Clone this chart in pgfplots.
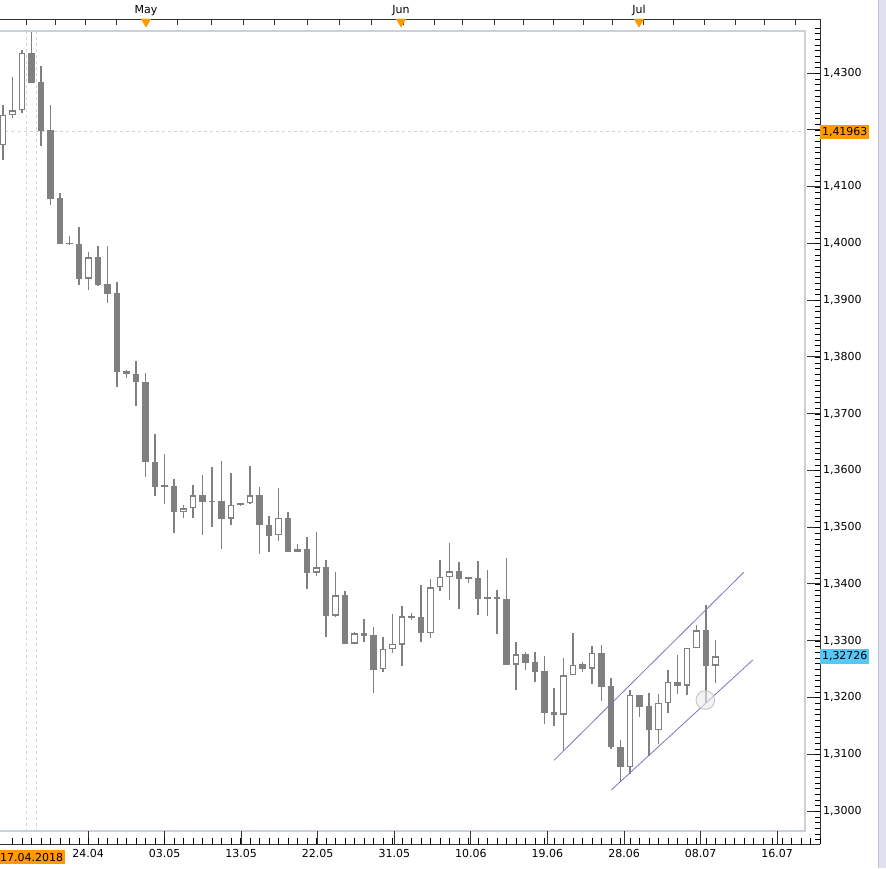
\documentclass[border=0pt]{standalone}
\usepackage{pgfplots}
\pgfplotsset{compat=1.18}
\usepackage{pgfplotstable}
\usepackage{fontspec}
\setmainfont{DejaVu Sans}
\definecolor{candle}{RGB}{128,128,128}
\definecolor{framec}{RGB}{204,208,216}
\definecolor{chan}{RGB}{120,120,184}
\definecolor{orangelbl}{RGB}{255,153,0}
\definecolor{bluelbl}{RGB}{85,200,245}
\definecolor{crossc}{RGB}{212,212,212}
\definecolor{barc}{RGB}{224,224,238}
\definecolor{barl}{RGB}{196,196,216}
\definecolor{axisc}{RGB}{50,50,50}

% down (filled) candles
\pgfplotstableread{
i O H L C
3 1.4335 1.4373 1.4282 1.4283
4 1.4284 1.4312 1.4171 1.4198
5 1.4200 1.4244 1.4068 1.4078
6 1.4079 1.4089 1.3998 1.3999
7 1.4001 1.4013 1.3997 1.3998
8 1.3999 1.4029 1.3927 1.3938
10 1.3975 1.3995 1.3924 1.3927
11 1.3928 1.3995 1.3895 1.3911
12 1.3912 1.3932 1.3747 1.3774
13 1.3775 1.3777 1.3763 1.3769
14 1.3770 1.3792 1.3714 1.3755
15 1.3756 1.3772 1.3589 1.3614
16 1.3615 1.3664 1.3555 1.3571
17 1.3573 1.3629 1.3540 1.3571
18 1.3572 1.3585 1.3489 1.3526
21 1.3557 1.3592 1.3487 1.3545
22 1.3546 1.3606 1.3501 1.3544
23 1.3546 1.3617 1.3462 1.3515
27 1.3557 1.3571 1.3453 1.3503
28 1.3504 1.3520 1.3457 1.3485
30 1.3516 1.3527 1.3457 1.3457
32 1.3461 1.3483 1.3391 1.3420
34 1.3430 1.3442 1.3307 1.3344
36 1.3380 1.3388 1.3294 1.3295
38 1.3313 1.3339 1.3298 1.3309
39 1.3310 1.3324 1.3207 1.3249
43 1.3343 1.3348 1.3337 1.3340
44 1.3341 1.3398 1.3297 1.3314
48 1.3422 1.3439 1.3356 1.3409
49 1.3410 1.3412 1.3401 1.3409
50 1.3410 1.3440 1.3346 1.3374
51 1.3375 1.3425 1.3344 1.3374
52 1.3375 1.3389 1.3311 1.3374
53 1.3374 1.3446 1.3257 1.3258
55 1.3276 1.3280 1.3249 1.3261
56 1.3262 1.3280 1.3228 1.3245
57 1.3247 1.3273 1.3154 1.3173
58 1.3174 1.3217 1.3149 1.3170
61 1.3259 1.3262 1.3244 1.3251
63 1.3278 1.3292 1.3194 1.3219
64 1.3220 1.3234 1.3109 1.3112
65 1.3112 1.3125 1.3051 1.3077
67 1.3204 1.3204 1.3166 1.3184
68 1.3185 1.3207 1.3097 1.3143
71 1.3227 1.3275 1.3206 1.3221
74 1.3318 1.3363 1.3191 1.3256
}\down

% up (hollow) candles
\pgfplotstableread{
i O H L C
0 1.4173 1.4244 1.4146 1.4226
1 1.4226 1.4293 1.4221 1.4234
2 1.4234 1.4341 1.4230 1.4335
9 1.3938 1.3985 1.3918 1.3975
19 1.3526 1.3539 1.3517 1.3533
20 1.3533 1.3574 1.3517 1.3556
24 1.3515 1.3595 1.3503 1.3539
25 1.3539 1.3543 1.3537 1.3542
26 1.3542 1.3608 1.3541 1.3556
29 1.3486 1.3569 1.3476 1.3516
31 1.3457 1.3470 1.3456 1.3461
33 1.3420 1.3492 1.3414 1.3429
35 1.3344 1.3421 1.3341 1.3380
37 1.3295 1.3315 1.3294 1.3313
40 1.3250 1.3306 1.3244 1.3285
41 1.3285 1.3347 1.3279 1.3294
42 1.3293 1.3361 1.3256 1.3343
45 1.3314 1.3409 1.3304 1.3394
46 1.3394 1.3442 1.3388 1.3412
47 1.3412 1.3472 1.3372 1.3422
54 1.3258 1.3298 1.3214 1.3276
59 1.3170 1.3270 1.3106 1.3239
60 1.3239 1.3314 1.3239 1.3258
62 1.3251 1.3291 1.3223 1.3278
66 1.3077 1.3213 1.3066 1.3204
69 1.3143 1.3206 1.3118 1.3190
70 1.3190 1.3248 1.3173 1.3227
72 1.3221 1.3288 1.3204 1.3287
73 1.3287 1.3327 1.3287 1.3318
75 1.3256 1.3301 1.3226 1.32726
}\up

\pgfplotsset{
  cbar/.style n args={2}{draw=none, mark=none, forget plot,
    error bars/.cd, y dir=plus, y explicit, error mark=none,
    error bar style={draw=#1, solid, line width=#2}},
}

\begin{document}
\begin{tikzpicture}
\useasboundingbox (0pt,0pt) rectangle (886pt,-868pt);
\fill[white] (0pt,0pt) rectangle (886pt,-868pt);
\fill[barc] (878pt,0pt) rectangle (886pt,-868pt);
\draw[barl, line width=1pt] (878.5pt,0pt) -- (878.5pt,-868pt);

% ---------- main data axis ----------
\begin{axis}[at={(0pt,-831pt)}, anchor=south west, scale only axis,
  width=805pt, height=800pt,
  xmin=-0.3158, xmax=84.421, ymin=1.296477, ymax=1.437397,
  hide axis, clip=true]
% crosshair
\addplot[crossc, line width=0.8pt, dash pattern=on 3pt off 3pt, forget plot] coordinates {(-1,1.41963) (90,1.41963)};
\addplot[crossc, line width=0.8pt, dash pattern=on 3pt off 3pt, forget plot] coordinates {(2.5,1.29) (2.5,1.44)};
\addplot[crossc, line width=0.8pt, dash pattern=on 3pt off 3pt, forget plot] coordinates {(3.5,1.29) (3.5,1.44)};
% wicks
\addplot[cbar={candle}{1.1pt}] table[x=i, y=L, y error expr=\thisrow{H}-\thisrow{L}] {\down};
\addplot[cbar={candle}{1.1pt}] table[x=i, y=L, y error expr=\thisrow{H}-\thisrow{L}] {\up};
% filled bodies
\addplot[cbar={candle}{6.5pt}] table[x=i, y=C, y error expr={max(\thisrow{O}-\thisrow{C},0.00026)}] {\down};
% hollow bodies
\addplot[cbar={candle}{6.5pt}] table[x=i, y=O, y error expr={max(\thisrow{C}-\thisrow{O},0.00026)}] {\up};
\addplot[cbar={white}{4.3pt}] table[x=i, y expr=\thisrow{O}+0.00022, y error expr={max(\thisrow{C}-\thisrow{O}-0.00044,0)}] {\up};
% channel
\addplot[chan, line width=0.8pt, forget plot] coordinates {(58.0,1.30893) (77.97,1.34205)};
\addplot[chan, line width=0.8pt, forget plot] coordinates {(64.03,1.3037) (78.92,1.3266)};
% circle marker
\addplot[only marks, mark=*, mark size=9.3pt, forget plot,
  mark options={fill=gray!15, fill opacity=0.6, draw=gray!45, line width=0.9pt}]
  coordinates {(73.93,1.31955)};
\end{axis}

% inner frame
\draw[framec, line width=1.8pt] (0pt,-31pt) -- (805pt,-31pt) -- (805pt,-831pt) -- (0pt,-831pt);

% ---------- outer axis: bottom and right ----------
\begin{axis}[at={(0pt,-844pt)}, anchor=south west, scale only axis,
  width=820pt, height=825pt,
  xmin=-0.3158, xmax=86.0, ymin=1.294187, ymax=1.439511,
  axis x line*=bottom, axis y line*=right,
  axis line style={axisc, line width=0.9pt},
  tick align=inside, tick style={axisc, line width=0.9pt},
  scaled y ticks=false, clip=false, major tick length=13.5pt,
  xtick={8.95,17.01,25.07,33.13,41.19,49.25,57.31,65.37,73.43,81.49},
  xticklabels={24.04,03.05,13.05,22.05,31.05,10.06,19.06,28.06,08.07,16.07},
  ytick={1.30,1.31,1.32,1.33,1.34,1.35,1.36,1.37,1.38,1.39,1.40,1.41,1.43},
  extra y ticks={1.42}, extra y tick labels={},
  yticklabel style={font=\fontsize{11}{13}\selectfont, black, xshift=-0.5pt,
    /pgf/number format/.cd, fixed, fixed zerofill, precision=4, use comma, assume math mode=true},
  xticklabel style={font=\fontsize{11}{13}\selectfont, black, yshift=-1.5pt}]
\node[fill=orangelbl, anchor=west, inner xsep=1.8pt, inner ysep=2.6pt, font=\fontsize{11}{13}\selectfont, text=black]
  at (axis cs:86,1.41963) {1,41963};
\node[fill=bluelbl, anchor=west, inner xsep=1.8pt, inner ysep=2.6pt, font=\fontsize{11}{13}\selectfont, text=black]
  at (axis cs:86,1.32726) {1,32726};
\end{axis}

% minor ticks on the bottom and right axis lines
\foreach \kk in {0,...,85} {
  \pgfmathsetmacro{\xx}{round(3+9.5*(\kk+0.95))+0.5}
  \draw[black, line width=1pt] (\xx pt,-844pt) -- (\xx pt,-838pt);
}
\foreach \mm in {-5,...,138} {
  \pgfmathsetmacro{\yy}{round(811-5.677*\mm)+0.5}
  \draw[black, line width=1pt] (820pt,-\yy pt) -- (815pt,-\yy pt);
}

% ---------- top axis: months ----------
\begin{axis}[at={(0pt,-844pt)}, anchor=south west, scale only axis,
  width=820pt, height=825pt,
  xmin=-0.3158, xmax=86.0, ymin=0, ymax=1,
  axis x line*=top, hide y axis,
  axis line style={axisc, line width=0.9pt},
  tick align=inside, major tick length=6pt,
  tick style={axisc, line width=0.9pt},
  xtick={2.49,5.54,8.71,11.9,15.1,18.4,21.9,25.3,28.6,32.0,35.4,38.8,42.2,45.4,48.4,51.7,54.8,57.96,61.05,64.2,67.4,70.6,73.8,77.05,80.1,83.4,86.0},
  xticklabels={},
  extra x ticks={15.05,41.9,66.95},
  extra x tick labels={May,Jun,Jul},
  extra x tick style={major tick length=0pt},
  xticklabel style={font=\fontsize{11}{13}\selectfont, black},
  clip=false]
\addplot[only marks, mark=triangle*, mark size=5.5pt,
  mark options={rotate=180, fill=orangelbl, draw=orangelbl}]
  coordinates {(15.05,0.99667) (41.9,0.99667) (66.95,0.99667)};
\end{axis}

\node[fill=orangelbl, anchor=west, inner xsep=1.5pt, inner ysep=3.2pt, font=\fontsize{11}{13}\selectfont, text=black]
  at (-1.5pt,-857pt) {17.04.2018};
\end{tikzpicture}
\end{document}
